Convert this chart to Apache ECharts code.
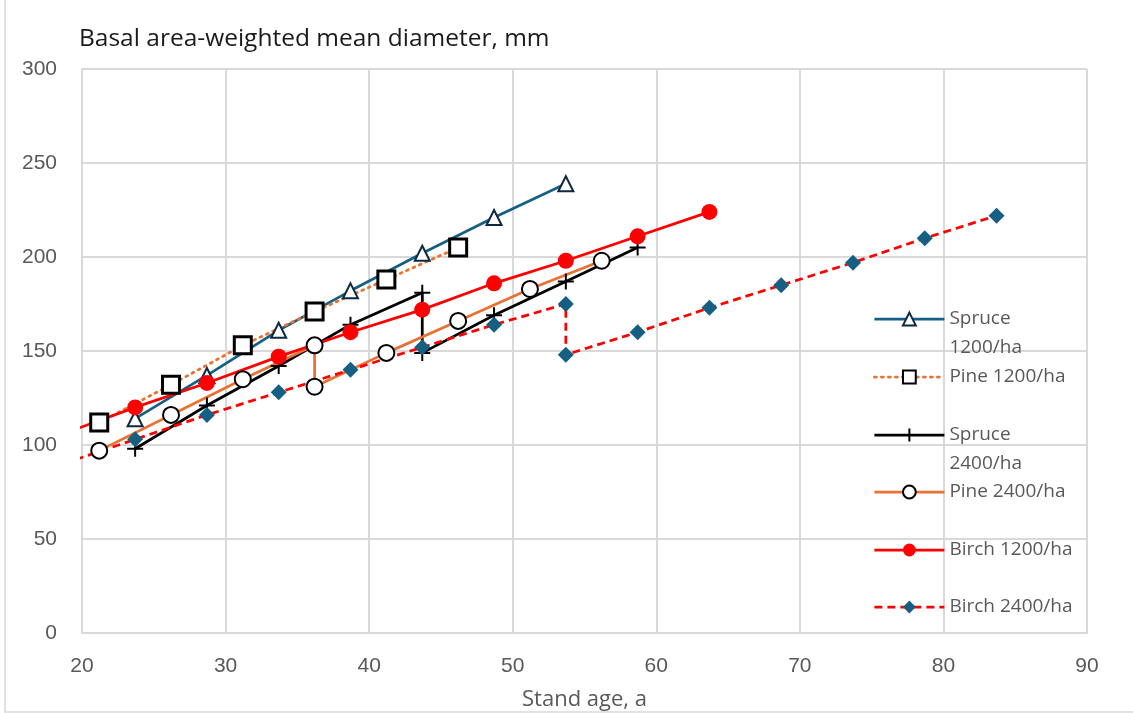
<!DOCTYPE html>
<html>
<head>
<meta charset="utf-8">
<script src="https://cdn.jsdelivr.net/npm/echarts@6/dist/echarts.min.js"></script>
<style>
html,body{margin:0;padding:0;background:#fff;}
#main{width:1133px;height:713px;}
</style>
</head>
<body>
<div id="main"></div>
<script>
// ---- data ----
const titleText = 'Basal area-weighted mean diameter, mm';
const xAxisName = 'Stand age, a';
const xTicks = [20, 30, 40, 50, 60, 70, 80, 90];
const yTicks = [0, 50, 100, 150, 200, 250, 300];

const spruce1200Age = [23.7, 28.7, 33.7, 38.7, 43.7, 48.7, 53.7];
const spruce1200D   = [114, 137, 161, 182, 202, 221, 239];

const pine1200Age = [21.2, 26.2, 31.2, 36.2, 41.2, 46.2];
const pine1200D   = [112, 132, 153, 171, 188, 205];

const spruce2400Age = [23.7, 28.7, 33.7, 38.7, 43.7, 43.7, 48.7, 53.7, 58.7];
const spruce2400D   = [98, 121, 142, 164, 181, 149, 169, 187, 205];

const pine2400Age = [21.2, 26.2, 31.2, 36.2, 36.2, 41.2, 46.2, 51.2, 56.2];
const pine2400D   = [97, 116, 135, 153, 131, 149, 166, 183, 198];

const birch1200Age = [18.7, 23.7, 28.7, 33.7, 38.7, 43.7, 48.7, 53.7, 58.7, 63.7];
const birch1200D   = [106, 120, 133, 147, 160, 172, 186, 198, 211, 224];

const birch2400Age = [18.7, 23.7, 28.7, 33.7, 38.7, 43.7, 48.7, 53.7, 53.7, 58.7, 63.7, 68.7, 73.7, 78.7, 83.7];
const birch2400D   = [90, 103, 116, 128, 140, 152, 164, 175, 148, 160, 173, 185, 197, 210, 222];

const seriesNames = ['Spruce 1200/ha', 'Pine 1200/ha', 'Spruce 2400/ha', 'Pine 2400/ha', 'Birch 1200/ha', 'Birch 2400/ha'];

function pairs(xs, ys) { return xs.map((x, i) => [x, ys[i]]); }

const BLUE = '#156082';
const ORANGE = '#E97132';
const RED = '#FF0000';
const PLUS = 'path://M5,0L5,10M0,5L10,5';
const FONT = 'Open Sans';

const chart = echarts.init(document.getElementById('main'), null, {renderer: 'canvas'});

const series = [
  {
    name: seriesNames[0], type: 'line', data: pairs(spruce1200Age, spruce1200D),
    symbol: 'triangle', symbolSize: 15,
    itemStyle: {color: '#fff', borderColor: '#0E2841', borderWidth: 2},
    lineStyle: {color: BLUE, width: 2.75}
  },
  {
    name: seriesNames[1], type: 'line', data: pairs(pine1200Age, pine1200D),
    symbol: 'rect', symbolSize: 17,
    itemStyle: {color: '#fff', borderColor: '#000', borderWidth: 3},
    lineStyle: {color: ORANGE, width: 2.75, type: [2, 5], cap: 'round'}
  },
  {
    name: seriesNames[2], type: 'line', data: pairs(spruce2400Age, spruce2400D),
    symbol: PLUS, symbolSize: 16,
    itemStyle: {color: '#000', borderColor: '#000', borderWidth: 2},
    lineStyle: {color: '#000', width: 2.75}
  },
  {
    name: seriesNames[3], type: 'line', data: pairs(pine2400Age, pine2400D),
    symbol: 'circle', symbolSize: 16,
    itemStyle: {color: '#fff', borderColor: '#000', borderWidth: 2},
    lineStyle: {color: ORANGE, width: 2.75}
  },
  {
    name: seriesNames[4], type: 'line', data: pairs(birch1200Age, birch1200D),
    symbol: 'circle', symbolSize: 16,
    itemStyle: {color: RED, borderColor: RED, borderWidth: 0},
    lineStyle: {color: RED, width: 2.75}
  },
  {
    name: seriesNames[5], type: 'line', data: pairs(birch2400Age, birch2400D),
    symbol: 'diamond', symbolSize: 16,
    itemStyle: {color: BLUE, borderColor: BLUE, borderWidth: 0},
    lineStyle: {color: RED, width: 2.75, type: [8, 5]}
  }
].map(s => Object.assign(s, {showSymbol: true, clip: true, animation: false}));

const legendCenters = [319, 377, 435, 492, 550, 607];
const LH = 29;
const legends = seriesNames.map((n, i) => {
  const twoLine = n.startsWith('Spruce');
  return {
    data: [n],
    left: 873,
    top: legendCenters[i] - (twoLine ? 1.5 * LH : 0.5 * LH),
    padding: 0,
    itemWidth: 70,
    itemHeight: 16,
    itemGap: 0,
    selectedMode: false,
    lineStyle: {width: 'inherit'},
    formatter: twoLine ? (nm => ' \n' + nm.replace(' ', '\n')) : (nm => nm),
    textStyle: {fontFamily: FONT, fontSize: 19, color: '#595959', lineHeight: LH}
  };
});

chart.setOption({
  animation: false,
  backgroundColor: '#fff',
  title: {
    text: titleText, left: 79, top: 27, padding: 0,
    textStyle: {fontFamily: FONT, fontSize: 24.5, fontWeight: 'normal', color: '#1a1a1a'}
  },
  graphic: [{
    type: 'rect', shape: {x: 5, y: -2, width: 1200, height: 714},
    style: {fill: 'none', stroke: '#d9d9d9', lineWidth: 1.5}, silent: true, z: -10
  }],
  legend: legends,
  grid: {left: 82, right: 46, top: 69, bottom: 80, containLabel: false, outerBoundsMode: 'none'},
  xAxis: {
    type: 'value', min: xTicks[0], max: xTicks[xTicks.length - 1], interval: 10,
    name: xAxisName, nameLocation: 'middle', nameGap: 56,
    nameTextStyle: {fontFamily: FONT, fontSize: 22, color: '#595959'},
    axisLine: {show: true, lineStyle: {color: '#d9d9d9', width: 2}},
    axisTick: {show: false},
    axisLabel: {margin: 23, fontFamily: 'Liberation Sans', fontSize: 21, color: '#595959'},
    splitLine: {show: true, lineStyle: {color: '#d9d9d9', width: 2}}
  },
  yAxis: {
    type: 'value', min: yTicks[0], max: yTicks[yTicks.length - 1], interval: 50,
    axisLine: {show: false},
    axisTick: {show: false},
    axisLabel: {margin: 25, fontFamily: 'Liberation Sans', fontSize: 21, color: '#595959'},
    splitLine: {show: true, lineStyle: {color: '#d9d9d9', width: 2}}
  },
  series: series
});
</script>
</body>
</html>
